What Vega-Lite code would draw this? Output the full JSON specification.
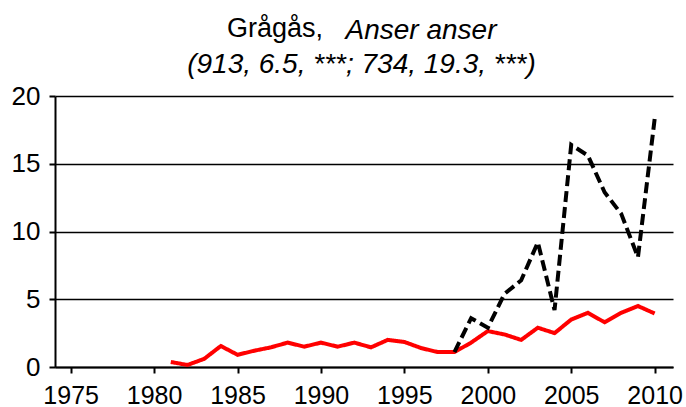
{
  "$schema": "https://vega.github.io/schema/vega-lite/v6.json",
  "width": 618,
  "height": 271,
  "autosize": {"type": "none"},
  "padding": {"left": 55, "top": 96, "right": 13, "bottom": 40},
  "background": "white",
  "title": {
    "text": "Grågås,",
    "anchor": "start",
    "frame": "group",
    "dx": 172,
    "offset": -27,
    "font": "Liberation Sans",
    "fontSize": 27,
    "fontWeight": "normal",
    "color": "#000000"
  },
  "data": {
    "values": [
      {"year": 1981, "value": 0.37, "series": "a"},
      {"year": 1982, "value": 0.15, "series": "a"},
      {"year": 1983, "value": 0.6, "series": "a"},
      {"year": 1984, "value": 1.55, "series": "a"},
      {"year": 1985, "value": 0.9, "series": "a"},
      {"year": 1986, "value": 1.2, "series": "a"},
      {"year": 1987, "value": 1.45, "series": "a"},
      {"year": 1988, "value": 1.8, "series": "a"},
      {"year": 1989, "value": 1.5, "series": "a"},
      {"year": 1990, "value": 1.8, "series": "a"},
      {"year": 1991, "value": 1.5, "series": "a"},
      {"year": 1992, "value": 1.8, "series": "a"},
      {"year": 1993, "value": 1.45, "series": "a"},
      {"year": 1994, "value": 2.0, "series": "a"},
      {"year": 1995, "value": 1.85, "series": "a"},
      {"year": 1996, "value": 1.4, "series": "a"},
      {"year": 1997, "value": 1.1, "series": "a"},
      {"year": 1998, "value": 1.1, "series": "a"},
      {"year": 1999, "value": 1.8, "series": "a"},
      {"year": 2000, "value": 2.65, "series": "a"},
      {"year": 2001, "value": 2.4, "series": "a"},
      {"year": 2002, "value": 2.0, "series": "a"},
      {"year": 2003, "value": 2.9, "series": "a"},
      {"year": 2004, "value": 2.5, "series": "a"},
      {"year": 2005, "value": 3.5, "series": "a"},
      {"year": 2006, "value": 4.0, "series": "a"},
      {"year": 2007, "value": 3.3, "series": "a"},
      {"year": 2008, "value": 4.0, "series": "a"},
      {"year": 2009, "value": 4.5, "series": "a"},
      {"year": 2010, "value": 3.95, "series": "a"},
      {"year": 1998, "value": 1.1, "series": "b"},
      {"year": 1999, "value": 3.6, "series": "b"},
      {"year": 2000, "value": 2.9, "series": "b"},
      {"year": 2001, "value": 5.4, "series": "b"},
      {"year": 2002, "value": 6.4, "series": "b"},
      {"year": 2003, "value": 9.2, "series": "b"},
      {"year": 2004, "value": 4.2, "series": "b"},
      {"year": 2005, "value": 16.4, "series": "b"},
      {"year": 2006, "value": 15.6, "series": "b"},
      {"year": 2007, "value": 12.9, "series": "b"},
      {"year": 2008, "value": 11.3, "series": "b"},
      {"year": 2009, "value": 8.1, "series": "b"},
      {"year": 2010, "value": 18.3, "series": "b"}
    ]
  },
  "mark": {"type": "line", "strokeWidth": 4, "strokeJoin": "miter", "strokeCap": "butt"},
  "encoding": {
    "x": {
      "field": "year",
      "type": "quantitative",
      "scale": {"domain": [1974.06, 2011.1], "nice": false, "zero": false},
      "axis": {
        "values": [1975, 1980, 1985, 1990, 1995, 2000, 2005, 2010],
        "format": "d",
        "grid": false,
        "domainColor": "#000000",
        "domainWidth": 2,
        "tickColor": "#000000",
        "tickWidth": 2,
        "tickSize": 6,
        "labelFont": "Liberation Sans",
        "labelFontSize": 25,
        "labelColor": "#000000",
        "labelPadding": 10,
        "labelFlush": false,
        "labelOverlap": false,
        "title": "Anser anser",
        "titleFont": "Liberation Sans",
        "titleFontSize": 28,
        "titleFontStyle": "italic",
        "titleFontWeight": "normal",
        "titleColor": "#000000",
        "titleAlign": "left",
        "titleBaseline": "alphabetic",
        "titleX": 290,
        "titleY": -329
      }
    },
    "y": {
      "field": "value",
      "type": "quantitative",
      "scale": {"domain": [0, 20], "nice": false},
      "axis": {
        "values": [0, 5, 10, 15, 20],
        "grid": true,
        "gridColor": "#000000",
        "gridWidth": 1.6,
        "gridOpacity": 1,
        "domainColor": "#000000",
        "domainWidth": 2,
        "tickColor": "#000000",
        "tickWidth": 2,
        "tickSize": 6,
        "labelFont": "Liberation Sans",
        "labelFontSize": 26,
        "labelColor": "#000000",
        "labelPadding": 9,
        "title": "(913, 6.5, ***; 734, 19.3, ***)",
        "titleFont": "Liberation Sans",
        "titleFontSize": 28,
        "titleFontStyle": "italic",
        "titleFontWeight": "normal",
        "titleColor": "#000000",
        "titleAngle": 0,
        "titleAlign": "center",
        "titleBaseline": "alphabetic",
        "titleX": 306,
        "titleY": -24
      }
    },
    "color": {
      "field": "series",
      "type": "nominal",
      "scale": {"domain": ["a", "b"], "range": ["#ff0000", "#000000"]},
      "legend": null
    },
    "strokeDash": {
      "field": "series",
      "type": "nominal",
      "scale": {"domain": ["a", "b"], "range": [[1, 0], [11, 5]]},
      "legend": null
    }
  },
  "config": {"view": {"stroke": null}}
}
